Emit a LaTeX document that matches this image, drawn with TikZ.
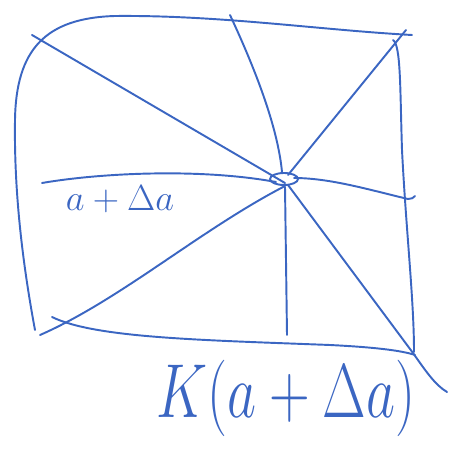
\documentclass[tikz,border=0pt]{standalone}
\usetikzlibrary{calc}
\definecolor{pen}{RGB}{59,102,194}

\begin{document}
\begin{tikzpicture}[x=0.02cm, y=-0.02cm, line width=1.1pt, pen,
  line cap=round, line join=round,
  handtext/.style={text=pen, inner sep=0pt}]
  \useasboundingbox (0,0) rectangle (450,455);
  % frame: left and top sides
  \draw (35,330) .. controls (22,260) and (14,190) .. (15,120)
        .. controls (16,50) and (45,18) .. (115,16)
        .. controls (220,15) and (320,30) .. (412,35);
  % frame: right side
  \draw (393,40) .. controls (401,45) and (400,90) .. (402,150)
        .. controls (406,230) and (414,300) .. (414,352);
  % frame: bottom side
  \draw (52,317) .. controls (95,338) and (200,340) .. (330,345)
        .. controls (370,347) and (400,350) .. (415,355);
  % centre point a
  \coordinate (C) at (284,179);
  \draw (C) ellipse [x radius=14, y radius=6];
  % spokes
  \coordinate (TL) at (32,35);
  \coordinate (T)  at (230,15);
  \coordinate (TR) at (406,30);
  \coordinate (R)  at (408,199);
  \coordinate (BR) at (447,392);
  \coordinate (B)  at (287,335);
  \coordinate (BL) at (40,335);
  \coordinate (L)  at (42,183);
  \draw (TL) -- ($(C)+(1,4)$);
  \draw (T) .. controls (258,75) and (278,130) .. ($(C)+(-2,-7)$);
  \draw (TR) -- ($(C)+(4,-4)$);
  \draw ($(C)+(10,-1)$) .. controls (330,178) and (370,190) .. (R)
        .. controls (411,199) and (414,198) .. (415,196);
  \draw ($(C)+(4,6)$) -- (413,353) .. controls (425,370) and (435,385) .. (BR);
  \draw ($(C)+(1,8)$) -- (B);
  \draw (BL) .. controls (120,300) and (200,230) .. ($(C)+(1,7)$);
  \draw (L) .. controls (100,173) and (200,168) .. ($(C)+(-8,3)$);
  % labels
  \node[handtext, font=\fontsize{22}{24}\selectfont] (da) at (120,199) {$a+\Delta a$};
  \node[handtext, font=\fontsize{44}{48}\selectfont, xscale=1.29, yscale=1.75] (Kda) at (286,398) {$K(a+\Delta a)$};
\end{tikzpicture}
\end{document}
